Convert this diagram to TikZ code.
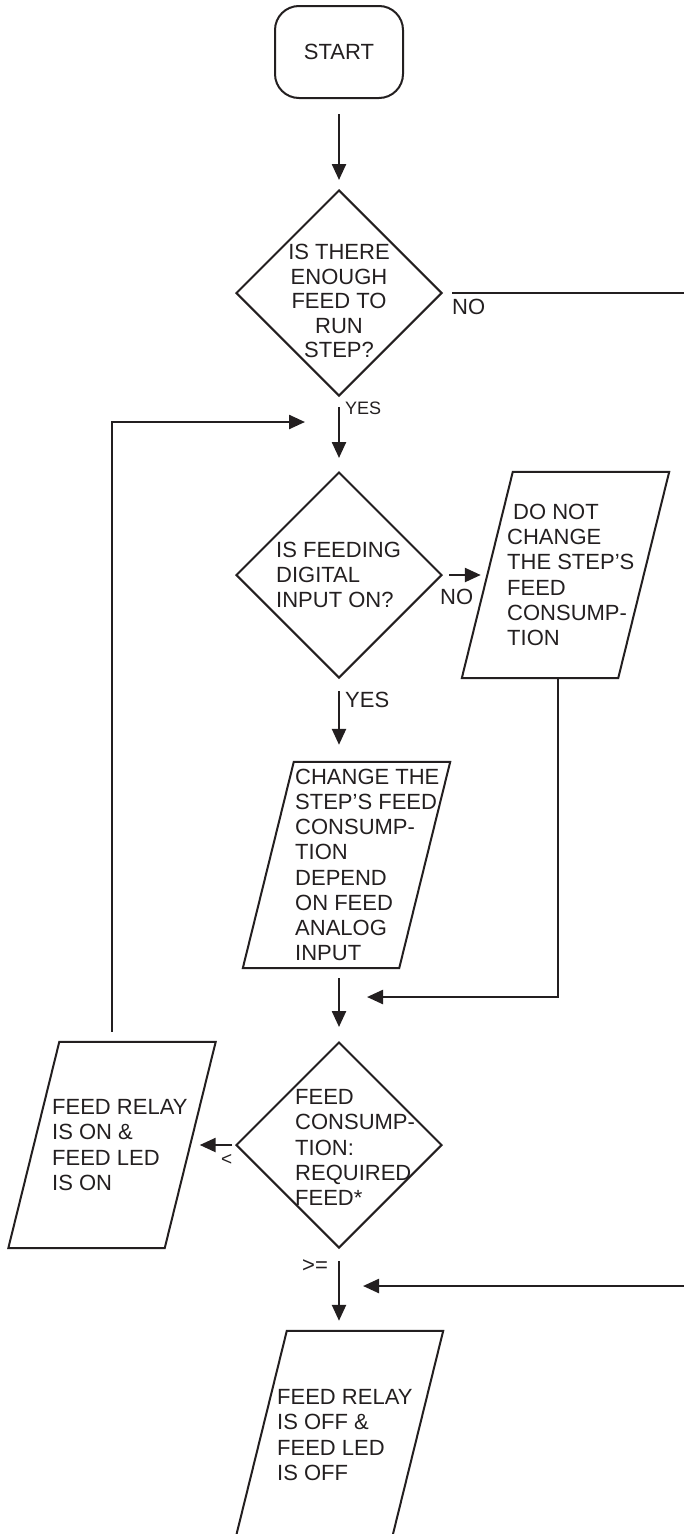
\documentclass[tikz,border=0pt]{standalone}
\usepackage{fontspec}
\setmainfont{Liberation Sans}
\usetikzlibrary{shapes.geometric, arrows.meta, calc}
\definecolor{ink}{HTML}{231F20}

% outline of a slanted input/output box laid over a rectangular node
\newcommand\drawpara[1]{%
  \draw[box] ([xshift=51pt]#1.north west) -- (#1.north east)
    -- ([xshift=-51pt]#1.south east) -- (#1.south west) -- cycle;}

\tikzset{
  box/.style={draw=ink, line width=2pt, line join=miter},
  decision/.style={diamond, box, minimum width=206pt, minimum height=206pt, inner sep=0pt},
  iobox/.style={rectangle, inner sep=0pt, minimum width=207pt, minimum height=206pt},
  terminal/.style={box, rounded corners=24pt, minimum width=128pt, minimum height=92pt,
    inner sep=0pt, text=ink, font=\fontsize{22pt}{25pt}\selectfont},
  txt/.style={inner sep=0pt, align=left, anchor=west, text=ink,
    font=\fontsize{22pt}{25.2pt}\selectfont},
  lbl/.style={inner sep=0pt, anchor=west, text=ink, font=\fontsize{22pt}{25pt}\selectfont},
  flow/.style={draw=ink, line width=2.4pt, -{Triangle[length=16pt,width=14pt]}},
  wire/.style={draw=ink, line width=2.4pt},
}

\begin{document}
\begin{tikzpicture}[x=1pt, y=1pt]
\useasboundingbox (0,0) rectangle (684,-1534);
\clip (0,0) rectangle (684,-1534);

% shapes
\node[terminal] (start) at (339,-52) {START};
\node[decision] (d1) at (339,-293) {};
\node[decision] (d2) at (339,-575) {};
\node[iobox] (p1) at (565.5,-575) {};
\node[iobox] (p2) at (346.5,-865) {};
\node[decision] (d3) at (339,-1145) {};
\node[iobox] (p3) at (112,-1145) {};
\node[iobox] (p4) at (339.5,-1434) {};
\drawpara{p1}
\drawpara{p2}
\drawpara{p3}
\drawpara{p4}

% texts inside the shapes
\node[inner sep=0pt, align=center, text=ink, font=\fontsize{22pt}{24.5pt}\selectfont]
  (t1) at (339,-301) {IS THERE\\ENOUGH\\FEED TO\\RUN\\STEP?};
\node[txt] (t2) at (276,-575) {IS FEEDING\\DIGITAL\\INPUT ON?};
\node[txt] (tp1) at (507,-575)
  {\hspace*{6pt}DO NOT\\CHANGE\\THE STEP’S\\FEED\\CONSUMP-\\TION};
\node[txt] (tp2) at (295,-865)
  {CHANGE THE\\STEP’S FEED\\CONSUMP-\\TION\\DEPEND\\ON FEED\\ANALOG\\INPUT};
\node[txt] (t3) at (295,-1147.5) {FEED\\CONSUMP-\\TION:\\REQUIRED\\FEED*};
\node[txt] (tp3) at (52,-1145) {FEED RELAY\\IS ON \&\\FEED LED\\IS ON};
\node[txt] (tp4) at (277,-1435) {FEED RELAY\\IS OFF \&\\FEED LED\\IS OFF};

% branch labels
\node[lbl, font=\fontsize{18pt}{20pt}\selectfont] (yes1) at (345,-408) {YES};
\node[lbl] (no1) at (452,-307) {NO};
\node[lbl] (no2) at (440,-597) {NO};
\node[lbl] (yes2) at (345,-700) {YES};
\node[lbl, font=\fontsize{19pt}{20pt}\selectfont] (lt) at (221,-1160) {<};
\node[lbl] (ge) at (302,-1266) {>=};

% free ends of connectors
\coordinate (noexit) at (684,-293);
\coordinate (loopin) at (305,-422);
\coordinate (mergeA) at (367,-997);
\coordinate (noentry) at (684,-1286);
\coordinate (mergeB) at (363,-1286);

% connectors
\draw[flow, shorten <=15pt, shorten >=9pt] (start) -- (d1);
\draw[wire] ([xshift=9pt]d1.east) -- (noexit);
\draw[flow, shorten <=10pt, shorten >=13pt] (d1) -- (d2);
\draw[flow] ([yshift=10pt]p3.north) |- (loopin);
\draw[flow] ([xshift=6pt]d2.east) -- ([xshift=19pt]p1.west);
\draw[flow, shorten <=12pt, shorten >=17pt] (d2.south) -- (d2.south |- p2.north);
\draw[flow] ([xshift=-7.5pt]p1.south) |- (mergeA);
\draw[flow, shorten <=10pt, shorten >=14pt] (d3.north |- p2.south) -- (d3.north);
\draw[flow, shorten <=3pt] (d3.west) -- ([xshift=-16pt]p3.east);
\draw[flow, shorten <=12pt, shorten >=10pt] (d3.south) -- (d3.south |- p4.north);
\draw[flow] (noentry) -- (mergeB);
\end{tikzpicture}
\end{document}
